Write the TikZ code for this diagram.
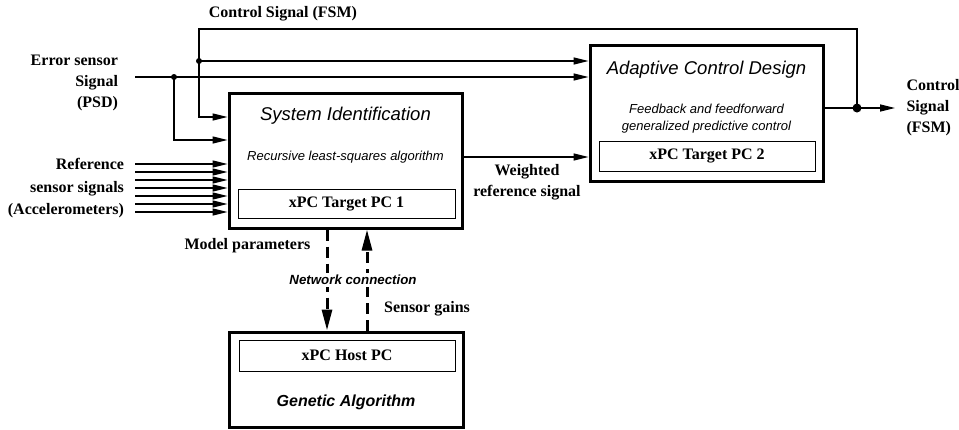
\documentclass[tikz,border=0pt]{standalone}
\usepackage{fontspec}
\setmainfont{Liberation Serif}
\setsansfont{Liberation Sans}
\usetikzlibrary{arrows.meta}
\begin{document}
\begin{tikzpicture}[x=1pt,y=-1pt,
    >={Triangle[length=15pt,width=7pt]},
    sig/.style={line width=1.3pt},
    net/.style={line width=3pt,dash pattern=on 11pt off 6pt,
      -{Triangle[length=21pt,width=10pt]}},
    bigbox/.style={draw,line width=3pt,inner sep=0pt},
    pcbox/.style={draw,line width=0.8pt,inner sep=0pt,
      font=\bfseries\fontsize{16}{19}\selectfont},
    title/.style={font=\sffamily\itshape\fontsize{18.5}{22}\selectfont},
    note/.style={font=\sffamily\itshape\fontsize{13}{17}\selectfont,align=center},
    lbl/.style={font=\bfseries\fontsize{16}{21}\selectfont}]
    \useasboundingbox (0,0) rectangle (959,429);
    % blocks
    \node[bigbox,minimum width=233pt,minimum height=135pt] (sysid) at (345.5,160.5) {};
    \node[pcbox,minimum width=217pt,minimum height=29pt] (target1) at (346.5,203.5) {xPC Target PC 1};
    \node[title] (sysidname) at (345.5,116) {System Identification};
    \node[note] (rls) at (345.5,157) {Recursive least-squares algorithm};
    \node[bigbox,minimum width=233pt,minimum height=136pt] (adapt) at (706.5,113) {};
    \node[pcbox,minimum width=216pt,minimum height=30pt] (target2) at (707,156) {xPC Target PC 2};
    \node[title] (adaptname) at (706.5,70) {Adaptive Control Design};
    \node[note] (gpc) at (706.5,118.5) {Feedback and feedforward\\generalized predictive control};
    \node[bigbox,minimum width=234pt,minimum height=95pt] (host) at (346,379.5) {};
    \node[pcbox,minimum width=216pt,minimum height=31pt] (hostpc) at (347,355.5) {xPC Host PC};
    \node[title,font=\sffamily\bfseries\itshape\fontsize{16}{19}\selectfont] (ga) at (346,402) {Genetic Algorithm};
    % labels
    \node[lbl] (fsmtop) at (283,14) {Control Signal (FSM)};
    \node[lbl,align=right,anchor=east] (errlbl) at (121.5,83) {Error sensor\\Signal\\(PSD)};
    \node[lbl,align=right,anchor=east,font=\bfseries\fontsize{16}{22.5}\selectfont] (reflbl) at (127.5,188.5) {Reference\\sensor signals\\(Accelerometers)};
    \node[lbl,align=left,anchor=west] (fsmout) at (903,108) {Control\\Signal\\(FSM)};
    \node[lbl,align=center] (wlbl) at (527,182.5) {Weighted\\reference signal};
    \node[lbl] (mplbl) at (247.5,246) {Model parameters};
    \node[lbl] (sglbl) at (427,309) {Sensor gains};
    % signals
    \coordinate (errin) at (135,77);
    \coordinate (errdot) at (174,77);
    \coordinate (fbdot) at (199,61);
    \coordinate (outdot) at (857,108);
    \coordinate (outend) at (895,108);
    \draw[sig,->] (errin) -- (adapt.west |- errin);
    \draw[sig,->] (errdot) |- (sysid.west |- 0,140);
    \draw[sig,->] (outdot) |- (199,29) |- (sysid.west |- 0,117);
    \draw[sig,->] (fbdot) -- (adapt.west |- fbdot);
    \draw[sig,->] (adapt.east |- outdot) -- (outend);
    \foreach \y in {164,172,...,212}
      \draw[sig,->] (135,\y) -- (sysid.west |- 0,\y);
    \draw[sig,->] (sysid.east |- 0,157) -- (adapt.west |- 0,157);
    \foreach \c in {errdot,fbdot}
      \fill (\c) circle (3pt);
    \fill (outdot) circle (4.5pt);
    % network
    \draw[net] (sysid.south -| 327,0) -- (host.north -| 327,0);
    \draw[net] (host.north -| 367,0) -- (sysid.south -| 367,0);
    \node[fill=white,inner sep=2pt,font=\sffamily\bfseries\itshape\fontsize{13.3}{16}\selectfont] (netlbl) at (353,280) {Network connection};
\end{tikzpicture}
\end{document}
